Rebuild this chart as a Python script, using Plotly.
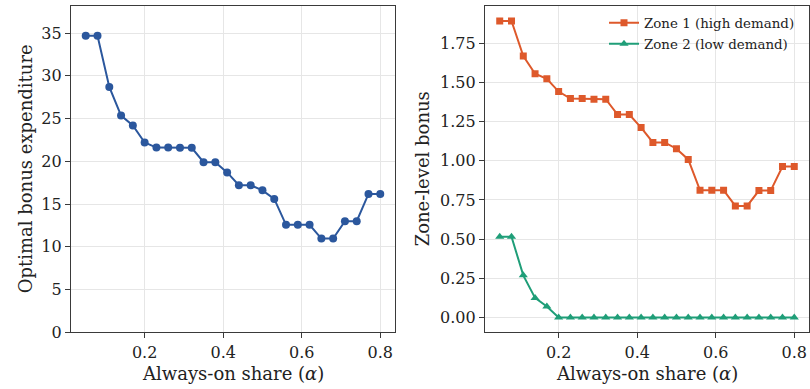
import plotly.graph_objects as go

alpha = [0.05, 0.08, 0.11, 0.14, 0.17, 0.20, 0.23, 0.26, 0.29, 0.32, 0.35, 0.38, 0.41,
         0.44, 0.47, 0.50, 0.53, 0.56, 0.59, 0.62, 0.65, 0.68, 0.71, 0.74, 0.77, 0.80]
expenditure = [34.69, 34.69, 28.7, 25.35, 24.2, 22.2, 21.6, 21.6, 21.57, 21.57, 19.9, 19.9, 18.7,
               17.2, 17.2, 16.6, 15.6, 12.57, 12.57, 12.57, 10.96, 10.96, 13.0, 13.0, 16.18, 16.18]
zone1 = [1.893, 1.893, 1.669, 1.556, 1.523, 1.442, 1.397, 1.397, 1.393, 1.393, 1.295, 1.295, 1.212,
         1.117, 1.117, 1.077, 1.009, 0.812, 0.812, 0.812, 0.712, 0.712, 0.81, 0.81, 0.964, 0.964]
zone2 = [0.515, 0.515, 0.269, 0.125, 0.07, 0.0, 0.0, 0.0, 0.0, 0.0, 0.0, 0.0, 0.0,
         0.0, 0.0, 0.0, 0.0, 0.0, 0.0, 0.0, 0.0, 0.0, 0.0, 0.0, 0.0, 0.0]

x_ticks = [0.2, 0.4, 0.6, 0.8]
left_y_ticks = [0, 5, 10, 15, 20, 25, 30, 35]
right_y_ticks = [0.0, 0.25, 0.5, 0.75, 1.0, 1.25, 1.5, 1.75]

BLUE = "#2b579d"
ORANGE = "#de592b"
GREEN = "#1f9e78"
FONT = "DejaVu Serif"
TXT = "#222222"

fig = go.Figure()
fig.add_trace(go.Scatter(x=alpha, y=expenditure, mode="lines+markers",
                         line=dict(color=BLUE, width=2),
                         marker=dict(symbol="circle", size=8, color=BLUE),
                         showlegend=False, xaxis="x", yaxis="y"))
fig.add_trace(go.Scatter(x=alpha, y=zone1, mode="lines+markers", name="Zone 1 (high demand)",
                         line=dict(color=ORANGE, width=2),
                         marker=dict(symbol="square", size=7, color=ORANGE),
                         xaxis="x2", yaxis="y2", legend="legend"))
fig.add_trace(go.Scatter(x=alpha, y=zone2, mode="lines+markers", name="Zone 2 (low demand)",
                         line=dict(color=GREEN, width=2),
                         marker=dict(symbol="triangle-up", size=8, color=GREEN),
                         xaxis="x2", yaxis="y2", legend="legend2"))

W, H = 810, 389
K = 0.9725  # vertical squash observed in the photographed page


def fy(y):
    return 1 - (y / K) / H


ydom = [fy(331.7), fy(6)]

axis_common = dict(showline=True, mirror=True, linecolor="#3a3a3a", linewidth=1.3,
                   ticks="outside", ticklen=5, tickwidth=1, tickcolor="#3a3a3a",
                   showgrid=True, gridcolor="#e6e6e6", gridwidth=1, zeroline=False,
                   tickfont=dict(family=FONT, size=16, color=TXT))


def label(text, x, y, angle=0):
    return dict(text=text, x=x / W, y=fy(y), xref="paper", yref="paper",
                xanchor="center", yanchor="middle", showarrow=False, textangle=angle,
                font=dict(family=FONT, size=18, color=TXT))


def leg(y):
    return dict(x=604 / W, y=fy(y), xanchor="left", yanchor="middle",
                bgcolor="rgba(0,0,0,0)", borderwidth=0,
                font=dict(family=FONT, size=13.4, color=TXT), itemwidth=30)


fig.update_layout(
    width=W, height=H,
    margin=dict(l=0, r=0, t=0, b=0),
    paper_bgcolor="white", plot_bgcolor="white",
    font=dict(family=FONT, color=TXT),
    xaxis=dict(domain=[71 / W, 395 / W], range=[0.0125, 0.8375], tickvals=x_ticks,
               ticktext=["0.2", "0.4", "0.6", "0.8"], anchor="y", **axis_common),
    yaxis=dict(domain=ydom, range=[0, 38.16], tickvals=left_y_ticks, anchor="x", **axis_common),
    xaxis2=dict(domain=[485 / W, 809 / W], range=[0.0125, 0.8375], tickvals=x_ticks,
                ticktext=["0.2", "0.4", "0.6", "0.8"], anchor="y2", **axis_common),
    yaxis2=dict(domain=ydom, range=[-0.0946, 1.988], tickvals=right_y_ticks,
                tickformat=".2f", anchor="x2", **axis_common),
    legend=leg(23),
    legend2=leg(44),
    annotations=[
        label("Optimal bonus expenditure", 25, 169, -90),
        label("Zone-level bonus", 422, 169, -90),
        label("Always-on share (<i>α</i>)", 233, 373),
        label("Always-on share (<i>α</i>)", 647, 373),
    ],
)

post = ("var d=document.documentElement,b=document.body;"
        "d.style.margin='0';d.style.padding='0';d.style.overflow='hidden';"
        "b.style.margin='0';b.style.padding='0';b.style.overflow='hidden';")

fig.write_html("out.html", config={"displayModeBar": False}, post_script=post)
